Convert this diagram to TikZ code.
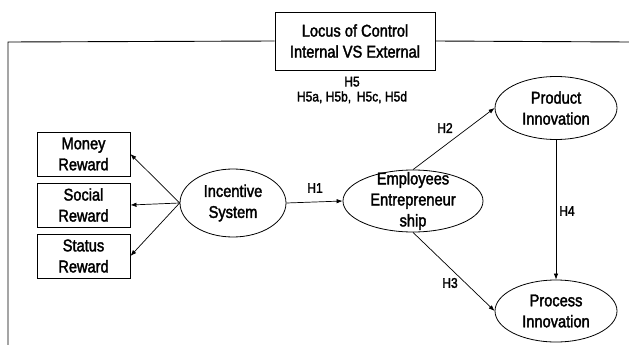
\documentclass[tikz,border=0pt]{standalone}
\usepackage{fontspec}
\setmainfont{Liberation Sans}[FakeStretch=0.86,FakeBold=2]
\usetikzlibrary{arrows.meta,shapes.geometric}
\newcommand{\hyp}[2]{\node[hyplab] (#1) at (#2)}

\begin{document}
\begin{tikzpicture}[x=1pt,y=-1pt,
	box/.style={draw,line width=0.9pt,minimum width=93pt,minimum height=44pt,inner sep=0pt,align=center,font=\fontsize{17}{21}\selectfont},
	oval/.style={draw,line width=0.8pt,ellipse,inner sep=0pt},
	every label/.style={align=center,font=\fontsize{17}{21}\selectfont},
	hyplab/.style={align=center,font=\fontsize{14}{15}\selectfont},
	arr/.style={-{Latex[length=6pt,width=4.5pt]},line width=0.7pt}]
		\useasboundingbox (0,0) rectangle (629,345);
		\node[box,minimum width=160pt,minimum height=58pt] (locus) at (355,41) {Locus of Control\\Internal VS External};
		\coordinate (lcorner) at (8,42);
		\coordinate (lend) at (8,345);
		\coordinate (rend) at (629,42);
		\draw[line width=0.9pt] (locus.west) -- (lcorner) -- (lend);
		\draw[line width=0.9pt] (locus.east) -- (rend);
			\node[box] (money) at (83.5,154) {Money\\Reward};
			\node[box] (social) at (83.5,205) {Social\\Reward};
			\node[box] (status) at (83.5,256) {Status\\Reward};
			\node[oval,minimum width=106pt,minimum height=68pt,label=center:{Incentive\\System}] (inc) at (233,203) {};
			\node[oval,minimum width=140pt,minimum height=62pt,label=center:{Employees\\Entrepreneur\\ship}] (emp) at (413,201) {};
			\node[oval,minimum width=122pt,minimum height=63pt,label=center:{Product\\Innovation}] (prod) at (556,108) {};
			\node[oval,minimum width=122pt,minimum height=62pt,label=center:{Process\\Innovation}] (proc) at (556,311) {};
		\draw[arr] (inc.west) -- (money.east);
		\draw[arr] (inc.west) -- (social.east);
		\draw[arr] (inc.west) -- (status.east);
		\draw[arr] (inc.east) -- (emp.west);
		\draw[arr] (emp.north) -- (prod.west);
		\draw[arr] (emp.south) -- (proc.west);
		\draw[arr] (prod.south) -- (proc.north);
			\hyp{h5}{352,90} {H5\\H5a, H5b,\, H5c, H5d};
			\hyp{h1}{315,188} {H1};
			\hyp{h2}{445,128} {H2};
			\hyp{h3}{450,283} {H3};
			\hyp{h4}{567,211} {H4};
\end{tikzpicture}
\end{document}
